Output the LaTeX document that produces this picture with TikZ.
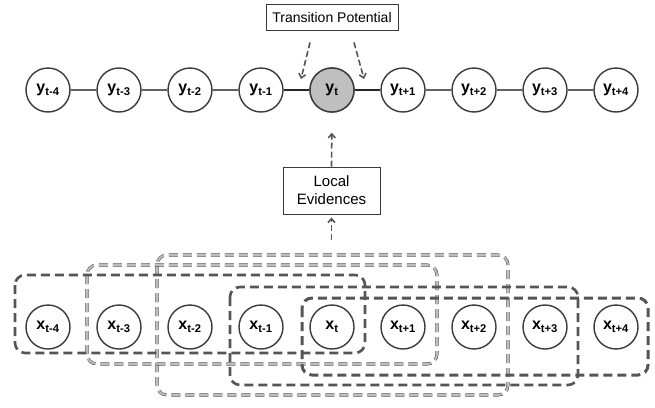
\documentclass[tikz,border=0pt]{standalone}
\usepackage{fontspec}
\setmainfont{Liberation Sans}
\usepackage{tikz}
\usetikzlibrary{arrows.meta}
\definecolor{DarkLine}{HTML}{3A3A3A}
\definecolor{DashDark}{HTML}{555555}
\definecolor{DashLight}{HTML}{BEBEBE}

\begin{document}
\begin{tikzpicture}[x=1pt, y=-1pt,
    var/.style={circle, draw=DarkLine, line width=1.4pt, fill=white, minimum size=44pt, inner sep=0pt, font=\fontsize{16}{18}\selectfont\bfseries},
    factorbox/.style={draw=DarkLine, line width=0.8pt, fill=white, align=center, inner sep=0pt},
    evarrow/.style={DashDark, line width=1.6pt, dash pattern=on 6pt off 3pt, -{Straight Barb[length=4pt,width=7pt]}},
    windark/.style={DashDark, line width=2.6pt, rounded corners=10pt, dash pattern=on 9pt off 5pt},
    winlight/.style={draw=DashDark, double=DashLight, line width=0.6pt, double distance=1.9pt, rounded corners=10pt, dash pattern=on 9pt off 5pt}]
  \useasboundingbox (0,0) rectangle (655,407);

  % Label chain and observations
  \foreach \i/\s in {0/t-4,1/t-3,2/t-2,3/t-1,4/t,5/t+1,6/t+2,7/t+3,8/t+4} {
    \node[var] (y\i) at (48+71*\i, 90) {y\textsubscript{\s}};
    \node[var] (x\i) at (48+71*\i, 327) {x\textsubscript{\s}};
  }
  \node[var, fill=gray!50] at (y4) {y\textsubscript{t}};

  % Chain edges
  \foreach \i [evaluate=\i as \j using int(\i+1)] in {0,1,2,5,6,7}
    \draw[DarkLine!80, line width=1.8pt] (y\i) -- (y\j);
  \draw[black!85, line width=2.6pt] (y3) -- (y4);
  \draw[black!85, line width=2.6pt] (y4) -- (y5);

  % Potentials
  \node[factorbox, minimum width=132pt, minimum height=26pt, font=\fontsize{14}{16}\selectfont] (tp) at (332,17) {Transition Potential};
  \node[factorbox, minimum width=97pt, minimum height=47pt, font=\fontsize{15}{18}\selectfont] (le) at (331.5,190.5) {Local\\Evidences};

  \coordinate (tl) at (301,79);
  \coordinate (tr) at (364,79);
  \draw[evarrow] ([xshift=-22pt,yshift=-12pt]tp.south) -- (tl);
  \draw[evarrow] ([xshift=22pt,yshift=-12pt]tp.south) -- (tr);
  \draw[evarrow, shorten >=20pt] (le.north) -- (y4.south);
  \coordinate (win) at (331.5,240);
  \draw[evarrow, shorten >=3pt] (win) -- (le.south);

  % Sliding windows
  \draw[winlight] (157,255) rectangle (508,395);
  \draw[winlight] (87,265) rectangle (437,364);
  \draw[windark] (15,275) rectangle (365,353);
  \draw[windark] (230,287) rectangle (578,385);
  \draw[windark, line width=3pt] (302,298) rectangle (648,375);
\end{tikzpicture}
\end{document}
